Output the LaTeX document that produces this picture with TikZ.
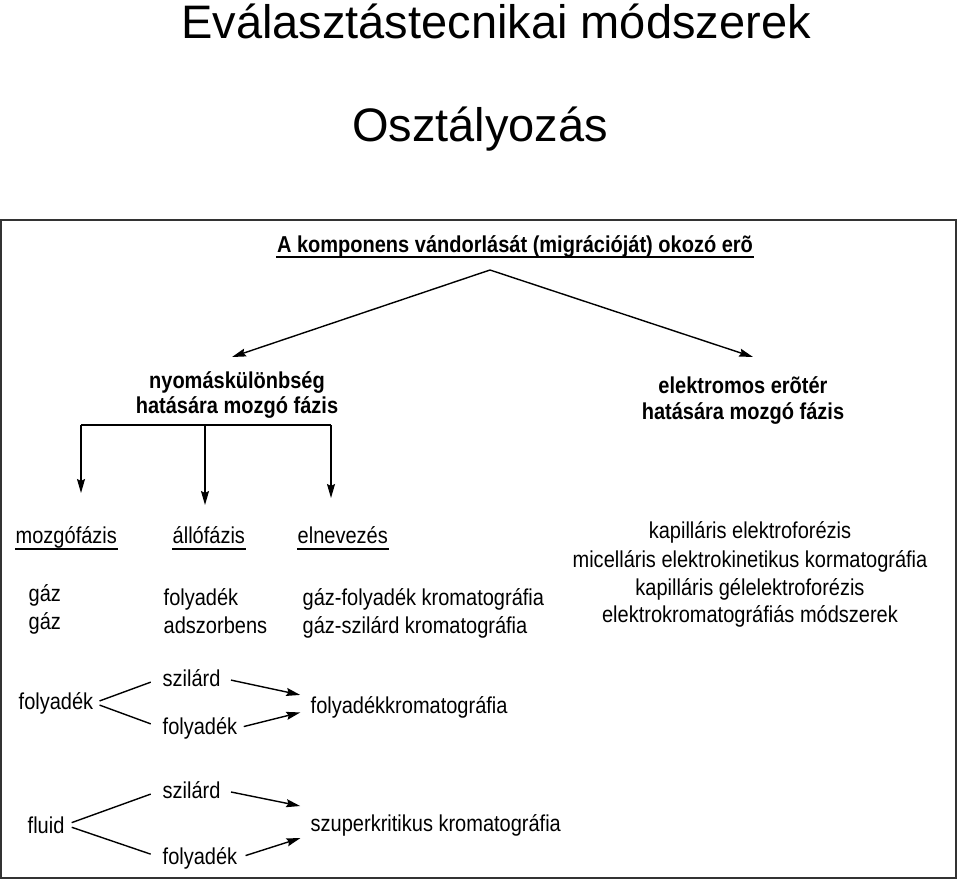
\documentclass[tikz,border=0pt]{standalone}
\usepackage{fontspec}
\setmainfont{Liberation Sans}
\newfontfamily\narrowsans{Liberation Sans}[FakeStretch=0.87]
\usetikzlibrary{arrows.meta}

\begin{document}
\begin{tikzpicture}[x=1pt, y=-1pt, line width=1.4pt,
  every node/.style={inner sep=0pt, font=\narrowsans\fontsize{23}{25}\selectfont},
  big/.style={font=\fontsize{47}{50}\selectfont},
  strong/.style={font=\narrowsans\fontsize{23}{25}\selectfont\bfseries},
  uline/.style={line width=1.7pt},
  >={Stealth[length=14pt, width=8pt, inset=2pt]}]
	\useasboundingbox (0,0) rectangle (960,881);
	\node[big, anchor=base] (title) at (496,38) {Eválasztástecnikai módszerek};
	\node[big, anchor=base] (osztaly) at (480,141) {Osztályozás};
	\draw[line width=2pt, black!80] (1,220) rectangle (956,878);
	\node[strong, anchor=base] (hd) at (515,252) {A komponens vándorlását (migrációját) okozó erõ};
	\draw[uline] ([yshift=-5pt]hd.base west) -- ([yshift=-5pt]hd.base east);
	\node[strong, align=center, anchor=north] (ny) at (237,371) {nyomáskülönbség\\hatására mozgó fázis};
	\node[strong, align=center, anchor=north, font=\narrowsans\fontsize{23}{26}\selectfont\bfseries] (el) at (743,376) {elektromos erõtér\\hatására mozgó fázis};
	\coordinate (apex) at (490,270);
	\coordinate (tNy) at (232,357);
	\coordinate (tEl) at (753,357);
	\draw[->] (apex) -- (tNy);
	\draw[->] (apex) -- (tEl);
	\coordinate (bL) at (81,425);
	\coordinate (bM) at (205,425);
	\coordinate (bR) at (331,425);
	\coordinate (dL) at (81,493);
	\coordinate (dM) at (205,505);
	\coordinate (dR) at (331,498);
	\draw (bL) -- (bR);
	\draw[->] (bL) -- (dL);
	\draw[->] (bM) -- (dM);
	\draw[->] (bR) -- (dR);
	\node[anchor=base west] (mozgo) at (15,543) {mozgófázis};
	\node[anchor=base west] (allo) at (172,543) {állófázis};
	\node[anchor=base west] (elnev) at (297,543) {elnevezés};
	\draw[uline] ([yshift=-6pt]mozgo.base west) -- ([yshift=-6pt]mozgo.base east);
	\draw[uline] ([yshift=-6pt]allo.base west) -- ([yshift=-6pt]allo.base east);
	\draw[uline] ([yshift=-6pt]elnev.base west) -- ([yshift=-6pt]elnev.base east);
	\node[anchor=base west] (gaz1) at (28,601) {gáz};
	\node[anchor=base west] (gaz2) at (28,629) {gáz};
	\node[anchor=base west] (allo1) at (163,605) {folyadék};
	\node[anchor=base west] (allo2) at (163,633) {adszorbens};
	\node[anchor=base west] (nev1) at (302,605) {gáz-folyadék kromatográfia};
	\node[anchor=base west] (nev2) at (302,633) {gáz-szilárd kromatográfia};
	\node[anchor=base] (ke1) at (750,538) {kapilláris elektroforézis};
	\node[anchor=base] (ke2) at (750,567) {micelláris elektrokinetikus kormatográfia};
	\node[anchor=base] (ke3) at (750,595) {kapilláris gélelektroforézis};
	\node[anchor=base] (ke4) at (750,622) {elektrokromatográfiás módszerek};
	\node[anchor=west] (fol) at (18,703) {folyadék};
	\node[anchor=west] (sz1) at (162,678) {szilárd};
	\node[anchor=west] (fo1) at (162,728) {folyadék};
	\node[anchor=west] (fk) at (310,707) {folyadékkromatográfia};
	\draw[shorten <=6pt, shorten >=12pt] (fol.east) -- (sz1.west);
	\draw[shorten <=6pt, shorten >=12pt] (fol.east) -- (fo1.west);
	\draw[->, shorten <=10pt, shorten >=10pt] (sz1.east) -- ([yshift=10pt]fk.west);
	\draw[->, shorten <=6pt, shorten >=10pt] (fo1.east) -- ([yshift=-3pt]fk.west);
	\node[anchor=west] (fluid) at (27,825) {fluid};
	\node[anchor=west] (sz2) at (162,790) {szilárd};
	\node[anchor=west] (fo2) at (162,858) {folyadék};
	\node[anchor=west] (szk) at (310,825) {szuperkritikus kromatográfia};
	\draw[shorten <=7pt, shorten >=12pt] (fluid.east) -- (sz2.west);
	\draw[shorten <=7pt, shorten >=12pt] (fluid.east) -- (fo2.west);
	\draw[->, shorten <=10pt, shorten >=10pt] (sz2.east) -- ([yshift=17pt]szk.west);
	\draw[->, shorten <=8pt, shorten >=10pt] (fo2.east) -- ([yshift=-10pt]szk.west);
\end{tikzpicture}
\end{document}
